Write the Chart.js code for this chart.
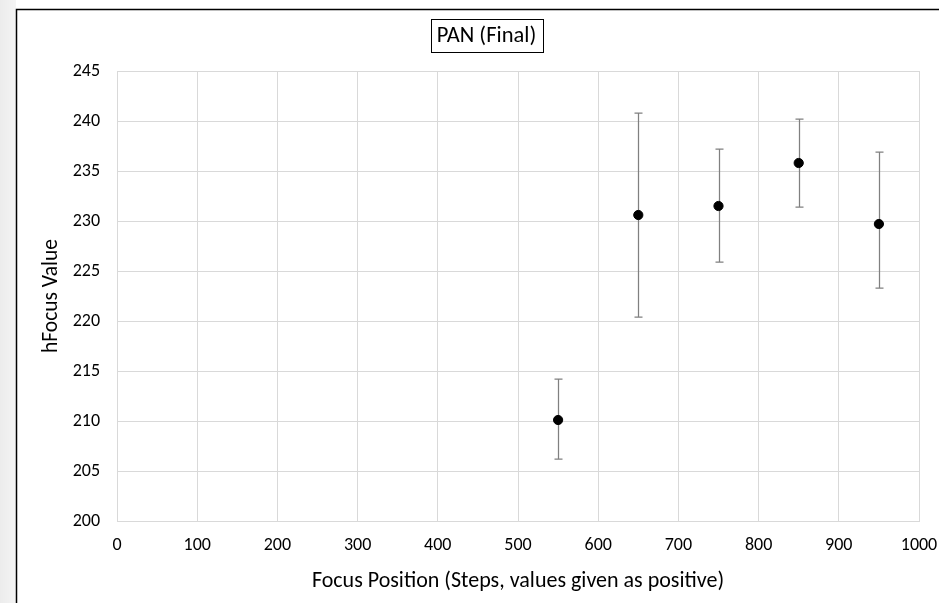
<!DOCTYPE html>
<html>
<head>
<meta charset="utf-8">
<script src="https://cdn.jsdelivr.net/npm/chart.js@4.4.1/dist/chart.umd.min.js"></script>
<style>
  html, body { margin: 0; padding: 0; background: #fff; }
  canvas { display: block; }
</style>
</head>
<body>
<canvas id="pan-chart" width="939" height="603"></canvas>
<script>
const positions = [550, 650, 750, 850, 950];
const hfocus = [210.1, 230.6, 231.5, 235.8, 229.7];
// error bar ends (low / high)
const errLow = [206.2, 220.4, 225.9, 231.4, 223.3];
const errHigh = [214.2, 240.8, 237.2, 240.2, 236.9];

const chartTitle = 'PAN (Final)';
const xTitle = 'Focus Position (Steps, values given as positive)';
const yTitle = 'hFocus Value';

const FONT = 'Carlito, Calibri, Lato, "Open Sans", sans-serif';

// background, left grey strip and the outer chart frame
const framePlugin = {
    id: 'frame',
    beforeDraw(chart) {
        const ctx = chart.ctx;
        ctx.save();
        ctx.fillStyle = '#ffffff';
        ctx.fillRect(0, 0, chart.width, chart.height);
        const g = ctx.createLinearGradient(0, 0, 16, 0);
        g.addColorStop(0, '#ececec');
        g.addColorStop(1, '#f4f4f4');
        ctx.fillStyle = g;
        ctx.fillRect(0, 0, 16, chart.height);
        ctx.strokeStyle = '#000000';
        ctx.lineWidth = 1.5;
        ctx.beginPath();
        ctx.moveTo(16.5, chart.height + 5);
        ctx.lineTo(16.5, 9.5);
        ctx.lineTo(chart.width + 5, 9.5);
        ctx.stroke();
        ctx.restore();
    },
    afterDraw(chart) {
        // boxed title
        const ctx = chart.ctx;
        ctx.save();
        ctx.font = '22.5px ' + FONT;
        const w = ctx.measureText(chartTitle).width;
        const cx = 486.5, cy = 36;
        const bw = Math.max(w + 12, 111);
        ctx.fillStyle = '#ffffff';
        ctx.fillRect(cx - bw / 2, 19, bw, 33);
        ctx.strokeStyle = '#000000';
        ctx.lineWidth = 1;
        ctx.strokeRect(Math.round(cx - bw / 2) + 0.5, 19.5, Math.round(bw), 33);
        ctx.fillStyle = '#000000';
        ctx.textAlign = 'center';
        ctx.textBaseline = 'middle';
        ctx.fillText(chartTitle, cx, cy);
        ctx.restore();
    }
};

// vertical error bars with caps, drawn under the markers
const errorBarPlugin = {
    id: 'errorBars',
    beforeDatasetsDraw(chart) {
        const ctx = chart.ctx;
        const xs = chart.scales.x, ys = chart.scales.y;
        ctx.save();
        ctx.strokeStyle = '#808080';
        ctx.lineWidth = 1.25;
        positions.forEach((p, i) => {
            const x = Math.round(xs.getPixelForValue(p)) + 0.5;
            const y1 = ys.getPixelForValue(errLow[i]);
            const y2 = ys.getPixelForValue(errHigh[i]);
            ctx.beginPath();
            ctx.moveTo(x, y1);
            ctx.lineTo(x, y2);
            ctx.moveTo(x - 4, y1);
            ctx.lineTo(x + 4, y1);
            ctx.moveTo(x - 4, y2);
            ctx.lineTo(x + 4, y2);
            ctx.stroke();
        });
        ctx.restore();
    }
};

new Chart(document.getElementById('pan-chart').getContext('2d'), {
    type: 'scatter',
    data: {
        datasets: [{
            label: chartTitle,
            data: positions.map((p, i) => ({ x: p, y: hfocus[i] })),
            backgroundColor: '#000000',
            borderColor: '#000000',
            borderWidth: 1,
            pointRadius: 4.6,
            pointHoverRadius: 4.6
        }]
    },
    plugins: [framePlugin, errorBarPlugin],
    options: {
        responsive: false,
        animation: false,
        layout: { padding: { left: 17, right: 20, top: 71, bottom: 0 } },
        plugins: {
            legend: { display: false },
            tooltip: { enabled: false }
        },
        scales: {
            x: {
                type: 'linear',
                min: 0, max: 1000,
                afterFit: (s) => { s.height = 82; s.paddingLeft = 0; s.paddingRight = 0; },
                ticks: {
                    stepSize: 100, padding: 14, color: '#000', maxRotation: 0,
                    font: { family: FONT, size: 18 },
                    callback: (v) => String(v)
                },
                grid: { color: '#d9d9d9', drawTicks: false },
                border: { color: '#d9d9d9' },
                title: { display: true, text: xTitle, color: '#000', font: { family: FONT, size: 22 }, padding: { top: 0, bottom: 8 } }
            },
            y: {
                min: 200, max: 245,
                afterFit: (s) => { s.width = 100; },
                ticks: { stepSize: 5, padding: 17, color: '#000', font: { family: FONT, size: 18 } },
                grid: { color: '#d9d9d9', drawTicks: false },
                border: { color: '#d9d9d9' },
                title: { display: true, text: yTitle, color: '#000', font: { family: FONT, size: 21.5 }, padding: { top: 22, bottom: 0 } }
            }
        }
    }
});
</script>
</body>
</html>
